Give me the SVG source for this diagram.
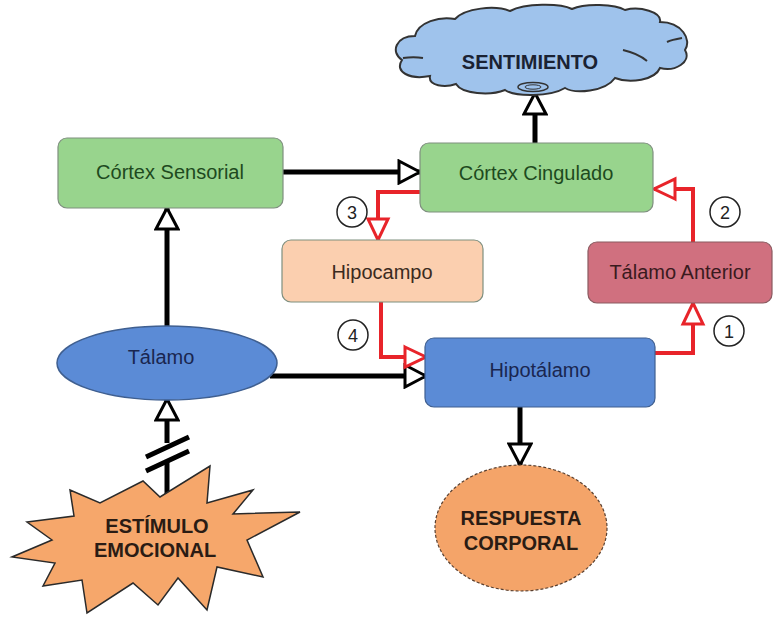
<svg xmlns="http://www.w3.org/2000/svg" width="779" height="617" viewBox="0 0 779 617">
<defs>
<style>
.box{stroke:#7f8f7f;stroke-width:1.2}
.green{fill:#98d48d}
.peach{fill:#fbcfaf}
.rose{fill:#d0707f;stroke:#8a5a60}
.blue{fill:#5b8bd6;stroke:#3f5f90}
.t{font-family:"Liberation Sans",Arial,sans-serif;font-size:20px;text-anchor:middle}
.b{font-weight:bold;fill:#2a1c14}
.blk{fill:none;stroke:#000;stroke-width:5}
.red{fill:none;stroke:#e8242a;stroke-width:4}
.num{fill:#fff;stroke:#222;stroke-width:1.5}
.nt{font-family:"Liberation Sans",Arial,sans-serif;font-size:18px;text-anchor:middle;fill:#222}
.cl{fill:none;stroke:#333;stroke-width:2}
</style>
<marker id="ab" markerUnits="userSpaceOnUse" viewBox="0 0 26 26" refX="23" refY="13" markerWidth="26" markerHeight="26" orient="auto">
<path d="M2,2 L23,13 L2,24 Z" fill="#fff" stroke="#000" stroke-width="3" stroke-linejoin="miter"/>
</marker>
<marker id="ar" markerUnits="userSpaceOnUse" viewBox="0 0 26 26" refX="23" refY="13" markerWidth="26" markerHeight="26" orient="auto">
<path d="M2,3 L23,13 L2,23 Z" fill="#fff" stroke="#e8242a" stroke-width="3"/>
</marker>
</defs>
<rect width="779" height="617" fill="#fff"/>

<g id="connectors">
<path class="blk" d="M535,143 L535,93" marker-end="url(#ab)"/>
<path class="blk" d="M283,172 L420,172" marker-end="url(#ab)"/>
<path class="blk" d="M167,327 L167,208" marker-end="url(#ab)"/>
<path class="blk" d="M167,443 L167,399" marker-end="url(#ab)"/>
<path class="blk" d="M167,462 L167,498"/>
<path stroke="#000" stroke-width="5" d="M146,457 L189,437 M146,471 L189,451"/>
<path class="blk" d="M270,376 L426,376" marker-end="url(#ab)"/>
<path class="blk" d="M520,407 L520,465" marker-end="url(#ab)"/>
<path class="red" d="M420,192 L378,192 L378,240" marker-end="url(#ar)"/>
<path class="red" d="M693,242 L693,189 L654,189" marker-end="url(#ar)"/>
<path class="red" d="M381,302 L381,357 L426,357" marker-end="url(#ar)"/>
<path class="red" d="M655,353 L693,353 L693,303" marker-end="url(#ar)"/>
</g>

<g id="labels">
<circle class="num" cx="352" cy="212" r="15"/><text class="nt" x="352" y="218.5">3</text>
<circle class="num" cx="725" cy="212" r="15"/><text class="nt" x="725" y="218.5">2</text>
<circle class="num" cx="353" cy="335" r="15"/><text class="nt" x="353" y="341.5">4</text>
<circle class="num" cx="729" cy="331" r="15"/><text class="nt" x="729" y="337.5">1</text>
</g>

<g id="sentimiento">
<path d="M430,76 C410,80 394,72 402,60 C390,52 396,36 415,36 C418,22 440,16 455,19 C465,8 495,5 510,11 C525,3 560,3 572,9 C585,3 615,4 625,10 C640,6 662,12 660,22 C682,22 692,40 685,50 C692,62 675,72 660,68 C655,80 630,84 615,78 C605,92 575,94 565,88 C550,97 515,97 505,90 C490,96 462,94 456,84 C445,88 428,86 430,76 Z" fill="#9fc3ec" stroke="#333" stroke-width="2"/>
<path class="cl" d="M623,50 C632,52 641,56 647,61"/>
<path class="cl" d="M667,42 C671,40 676,39 682,38"/>
<path class="cl" d="M403,58 C410,57 417,57 423,58"/>
<ellipse cx="533" cy="87" rx="15" ry="4.5" fill="#9fc3ec" stroke="#333" stroke-width="1.5"/>
<ellipse cx="533" cy="87" rx="8" ry="2.2" fill="#9fc3ec" stroke="#333" stroke-width="1"/>
<text class="t b" x="530" y="69" style="fill:#1a2233">SENTIMIENTO</text>
</g>

<g id="cortex-sensorial">
<rect class="box green" x="58" y="138" width="225" height="70" rx="9"/>
<text class="t" x="170" y="179" fill="#1e4a1e">Córtex Sensorial</text>
</g>

<g id="cortex-cingulado">
<rect class="box green" x="420" y="143" width="233" height="69" rx="9"/>
<text class="t" x="536" y="180" fill="#1e4a1e">Córtex Cingulado</text>
</g>

<g id="hipocampo">
<rect class="box peach" x="282" y="240" width="201" height="62" rx="9"/>
<text class="t" x="382" y="279" fill="#3a2a20">Hipocampo</text>
</g>

<g id="talamo-anterior">
<rect class="box rose" x="588" y="242" width="184" height="61" rx="9"/>
<text class="t" x="680" y="279" fill="#3a1a1e">Tálamo Anterior</text>
</g>

<g id="talamo">
<ellipse class="blue" cx="167" cy="363" rx="110" ry="37" stroke-width="1.5"/>
<text class="t" x="161" y="364" fill="#1a2650">Tálamo</text>
</g>

<g id="hipotalamo">
<rect class="box blue" x="425" y="338" width="230" height="69" rx="9"/>
<text class="t" x="540" y="377" fill="#1a2650">Hipotálamo</text>
</g>

<g id="respuesta-corporal">
<ellipse cx="521" cy="528" rx="86" ry="63" fill="#f4a469" stroke="#5a4030" stroke-width="1.2" stroke-dasharray="3,2"/>
<text class="t b" x="521" y="525">RESPUESTA</text>
<text class="t b" x="521" y="550">CORPORAL</text>
</g>

<g id="estimulo-emocional">
<polygon points="70,490 100,503 143,481 160,497 210,466 207,503 253,490 233,514 300,512 247,540 263,577 217,567 207,610 178,578 158,605 133,583 87,613 82,580 43,586 55,563 12,557 52,540 27,522 74,516" fill="#f6a76b" stroke="#2a2a2a" stroke-width="1.5" stroke-linejoin="miter"/>
<text class="t b" x="157" y="533">ESTÍMULO</text>
<text class="t b" x="155" y="557">EMOCIONAL</text>
</g>
</svg>
